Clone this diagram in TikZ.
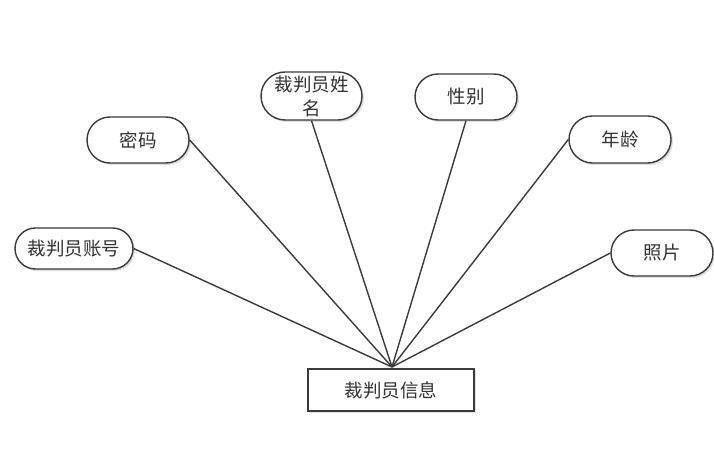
\documentclass[tikz,border=0pt]{standalone}
\usepackage{fontspec}
\setmainfont{Noto Sans CJK SC}
\usetikzlibrary{shapes.misc,shadows}
\definecolor{edge}{HTML}{3A3A3A}
\tikzset{
  attr/.style={draw=edge, line width=1.4pt, fill=white, rounded rectangle, inner sep=0pt,
    minimum width=102pt, minimum height=46pt, font=\fontsize{18.5}{20}\selectfont, text=black!80,
    drop shadow={shadow xshift=2pt, shadow yshift=-2pt, fill=black, opacity=0.12}},
  entity/.style={draw=edge, line width=1.4pt, fill=white, rectangle, inner sep=0pt,
    minimum width=166pt, minimum height=42pt, font=\fontsize{18.5}{20}\selectfont, text=black!80,
    drop shadow={shadow xshift=2pt, shadow yshift=-2pt, fill=black, opacity=0.12}},
  link/.style={draw=edge, line width=1.4pt}
}
\begin{document}
\begin{tikzpicture}[x=1pt,y=-1pt]
\useasboundingbox (0,0) rectangle (714,449);
\node[attr, minimum width=118pt, minimum height=41pt] (zh) at (74,248.5) {裁判员账号};
\node[attr] (mm) at (138,140) {密码};
\node[attr, minimum width=101pt, minimum height=48pt, align=center, font=\fontsize{18.5}{24}\selectfont] (xm) at (311.5,96) {裁判员姓\\名};
\node[attr] (xb) at (466,97) {性别};
\node[attr, minimum height=47pt] (nl) at (620,139.5) {年龄};
\node[attr] (zp) at (662,253) {照片};
\node[entity] (info) at (391,390) {裁判员信息};
\coordinate (hub) at (392,367);
\draw[link] (zh.east) -- (hub);
\draw[link] (mm.east) -- (hub);
\draw[link] (xm.south) -- (hub);
\draw[link] (xb.south) -- (hub);
\draw[link] (nl.west) -- (hub);
\draw[link] (zp.west) -- (hub);
\end{tikzpicture}
\end{document}
